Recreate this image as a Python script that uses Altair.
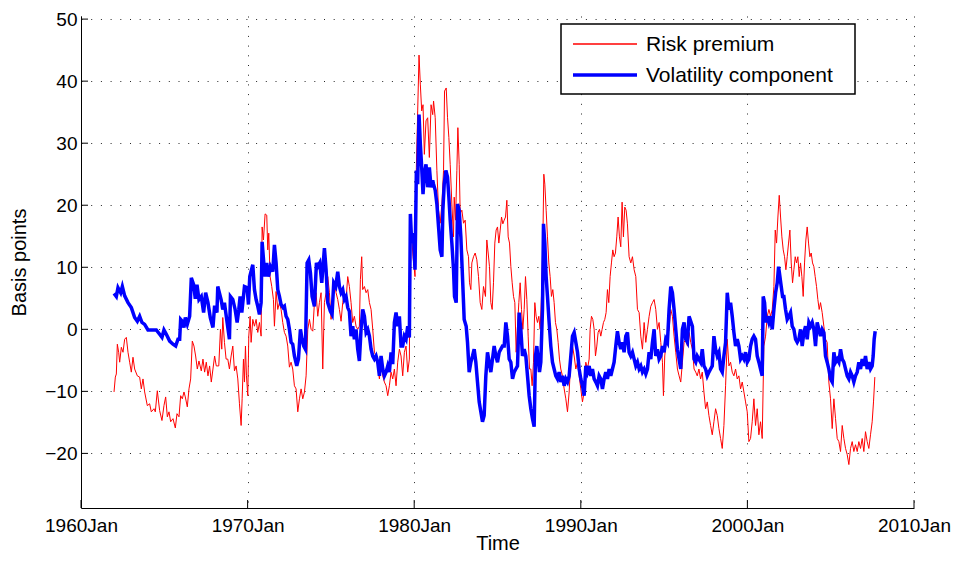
import altair as alt
import numpy as np
import pandas as pd

FONT = "Liberation Sans"

# ---------------- data (decimal year, basis points) -------------
rp_year = [
    1961.98, 1962.06, 1962.12, 1962.18, 1962.26, 1962.32, 1962.42, 1962.52, 1962.62, 1962.72,
    1962.82, 1962.92, 1963.02, 1963.12, 1963.22, 1963.38, 1963.52, 1963.62, 1963.72, 1963.82,
    1963.98, 1964.12, 1964.22, 1964.38, 1964.46, 1964.58, 1964.72, 1964.86, 1964.98, 1965.08,
    1965.18, 1965.28, 1965.38, 1965.52, 1965.66, 1965.76, 1965.88, 1965.98, 1966.08, 1966.18,
    1966.26, 1966.38, 1966.48, 1966.58, 1966.68, 1966.78, 1966.88, 1966.98, 1967.08, 1967.22,
    1967.32, 1967.42, 1967.52, 1967.62, 1967.72, 1967.82, 1967.92, 1968.02, 1968.12, 1968.27,
    1968.37, 1968.45, 1968.51, 1968.61, 1968.71, 1968.81, 1968.91, 1969.01, 1969.11, 1969.21,
    1969.31, 1969.41, 1969.51, 1969.61, 1969.67, 1969.75, 1969.81, 1969.87, 1969.93, 1970.01,
    1970.07, 1970.15, 1970.21, 1970.31, 1970.41, 1970.51, 1970.61, 1970.71, 1970.81, 1970.87,
    1970.95, 1971.05, 1971.15, 1971.21, 1971.27, 1971.35, 1971.45, 1971.55, 1971.61, 1971.71,
    1971.81, 1971.91, 1972.01, 1972.11, 1972.21, 1972.31, 1972.41, 1972.51, 1972.61, 1972.71,
    1972.81, 1972.91, 1973.01, 1973.11, 1973.21, 1973.31, 1973.41, 1973.51, 1973.61, 1973.71,
    1973.81, 1973.91, 1974.01, 1974.11, 1974.21, 1974.31, 1974.41, 1974.51, 1974.61, 1974.71,
    1974.81, 1974.91, 1975.01, 1975.11, 1975.21, 1975.31, 1975.41, 1975.51, 1975.61, 1975.71,
    1975.81, 1975.91, 1976.01, 1976.11, 1976.21, 1976.31, 1976.41, 1976.51, 1976.61, 1976.71,
    1976.77, 1976.85, 1976.91, 1977.01, 1977.11, 1977.21, 1977.31, 1977.41, 1977.51, 1977.61,
    1977.71, 1977.81, 1977.91, 1978.01, 1978.11, 1978.21, 1978.31, 1978.41, 1978.51, 1978.61,
    1978.71, 1978.81, 1978.91, 1979.01, 1979.11, 1979.21, 1979.31, 1979.41, 1979.51, 1979.61,
    1979.71, 1979.77, 1979.85, 1979.93, 1980.05, 1980.13, 1980.21, 1980.29, 1980.37, 1980.45,
    1980.53, 1980.61, 1980.71, 1980.81, 1980.91, 1981.01, 1981.11, 1981.16, 1981.26, 1981.36,
    1981.46, 1981.56, 1981.66, 1981.76, 1981.82, 1981.92, 1982.00, 1982.08, 1982.16, 1982.26,
    1982.36, 1982.40, 1982.48, 1982.56, 1982.62, 1982.70, 1982.76, 1982.86, 1982.96, 1983.06,
    1983.16, 1983.26, 1983.32, 1983.40, 1983.46, 1983.56, 1983.66, 1983.76, 1983.86, 1983.96,
    1984.06, 1984.16, 1984.28, 1984.36, 1984.44, 1984.52, 1984.60, 1984.68, 1984.76, 1984.84,
    1984.92, 1985.00, 1985.08, 1985.16, 1985.24, 1985.32, 1985.40, 1985.48, 1985.56, 1985.64,
    1985.72, 1985.80, 1985.88, 1985.96, 1986.04, 1986.12, 1986.20, 1986.28, 1986.36, 1986.44,
    1986.52, 1986.60, 1986.68, 1986.76, 1986.84, 1986.92, 1987.00, 1987.08, 1987.16, 1987.24,
    1987.32, 1987.40, 1987.48, 1987.56, 1987.64, 1987.72, 1987.78, 1987.84, 1987.92, 1988.00,
    1988.08, 1988.16, 1988.24, 1988.32, 1988.40, 1988.48, 1988.56, 1988.64, 1988.72, 1988.80,
    1988.90, 1989.00, 1989.10, 1989.20, 1989.30, 1989.40, 1989.50, 1989.60, 1989.70, 1989.80,
    1989.90, 1990.00, 1990.10, 1990.20, 1990.30, 1990.40, 1990.50, 1990.56, 1990.64, 1990.72,
    1990.80, 1990.88, 1990.96, 1991.04, 1991.12, 1991.20, 1991.28, 1991.36, 1991.44, 1991.52,
    1991.60, 1991.68, 1991.76, 1991.84, 1991.92, 1992.00, 1992.08, 1992.16, 1992.24, 1992.32,
    1992.40, 1992.48, 1992.56, 1992.64, 1992.72, 1992.80, 1992.90, 1993.00, 1993.10, 1993.20,
    1993.30, 1993.40, 1993.50, 1993.60, 1993.70, 1993.80, 1993.90, 1994.00, 1994.10, 1994.20,
    1994.30, 1994.40, 1994.50, 1994.60, 1994.70, 1994.80, 1994.90, 1994.96, 1995.04, 1995.12,
    1995.20, 1995.30, 1995.40, 1995.50, 1995.60, 1995.70, 1995.80, 1995.90, 1996.00, 1996.10,
    1996.20, 1996.30, 1996.40, 1996.50, 1996.60, 1996.70, 1996.80, 1996.90, 1996.99, 1997.09,
    1997.19, 1997.29, 1997.39, 1997.49, 1997.59, 1997.69, 1997.79, 1997.89, 1997.99, 1998.09,
    1998.19, 1998.29, 1998.39, 1998.49, 1998.59, 1998.69, 1998.79, 1998.89, 1998.99, 1999.09,
    1999.19, 1999.29, 1999.39, 1999.49, 1999.59, 1999.69, 1999.79, 1999.89, 1999.99, 2000.09,
    2000.19, 2000.29, 2000.39, 2000.49, 2000.59, 2000.69, 2000.79, 2000.89, 2000.99, 2001.09,
    2001.19, 2001.29, 2001.39, 2001.49, 2001.59, 2001.67, 2001.75, 2001.83, 2001.91, 2001.99,
    2002.07, 2002.15, 2002.23, 2002.31, 2002.39, 2002.47, 2002.55, 2002.63, 2002.71, 2002.79,
    2002.87, 2002.95, 2003.03, 2003.11, 2003.19, 2003.27, 2003.35, 2003.43, 2003.51, 2003.59,
    2003.67, 2003.75, 2003.83, 2003.91, 2003.99, 2004.07, 2004.15, 2004.23, 2004.31, 2004.39,
    2004.49, 2004.59, 2004.69, 2004.79, 2004.89, 2004.99, 2005.09, 2005.19, 2005.29, 2005.39,
    2005.49, 2005.59, 2005.69, 2005.79, 2005.89, 2005.99, 2006.09, 2006.19, 2006.29, 2006.39,
    2006.49, 2006.59, 2006.69, 2006.79, 2006.89, 2006.99, 2007.09, 2007.19, 2007.29, 2007.39,
    2007.49, 2007.57, 2007.65,
]
rp_value = [
    -10.1, -7.7, -7.2, -2.4, -3.7, -5.3, -2.9, -3.7, -1.6, -1.3,
    -3.7, -5.3, -6.9, -4.5, -6.4, -7.5, -7.7, -9.6, -8.0, -10.1,
    -12.3, -12.0, -13.3, -12.8, -13.3, -9.9, -13.1, -14.7, -12.3, -10.9,
    -14.1, -13.3, -14.9, -14.4, -15.9, -13.6, -14.1, -10.7, -11.2, -10.1,
    -10.9, -12.5, -9.6, -8.0, -1.9, -2.7, -4.3, -6.4, -5.1, -6.7,
    -4.8, -6.9, -5.3, -7.5, -5.9, -8.5, -6.4, -4.3, -5.9, -5.9,
    0.0, -3.2, 1.9, -2.1, -4.8, -4.8, -6.4, -4.3, -2.7, -6.7,
    -5.9, -8.0, -12.0, -15.5, -11.2, -4.8, -8.5, -2.7, -7.5, -10.7,
    -1.1, 2.1, -2.1, 1.6, 0.5, 1.6, -0.5, 1.1, -1.1, 16.5,
    14.4, 18.6, 18.4, 12.8, 15.5, 8.5, 6.9, 4.8, 0.5, 6.1,
    3.2, 4.3, 3.2, 1.1, -0.5, -1.1, -2.7, -6.1, -5.3, -6.4,
    -9.1, -9.6, -13.3, -11.2, -9.6, -11.2, -10.1, -7.5, 0.0, 1.6,
    0.0, -0.3, 4.3, 5.9, 2.1, 4.3, 5.9, -6.4, 4.3, 5.9,
    8.5, 5.9, 1.6, 4.3, 7.5, 5.9, 4.8, 3.2, 1.3, 4.3,
    5.9, 4.8, 8.5, 6.9, 4.3, 1.1, 2.1, 0.5, 0.0, 0.5,
    8.0, 11.7, 6.4, 6.9, 5.9, 6.4, 4.3, 3.2, 0.0, -3.7,
    -4.3, -5.9, -8.0, -5.3, -7.5, -8.5, -9.1, -10.7, -9.1, -6.9,
    -8.0, -6.4, -9.1, -5.3, -3.2, -4.3, -7.5, -3.7, -2.7, -6.9,
    -4.8, 18.1, 14.9, 11.7, 8.5, 26.1, 35.2, 44.2, 39.4, 35.2,
    36.2, 28.2, 33.6, 34.1, 27.7, 36.2, 34.6, 36.8, 34.1, 25.6,
    19.2, 17.1, 20.2, 25.6, 38.4, 38.9, 34.1, 30.9, 26.6, 20.2,
    14.9, 21.3, 17.6, 25.6, 32.5, 26.6, 18.7, 19.2, 17.1, 17.6,
    12.8, 11.7, 7.5, 6.4, 10.7, 11.7, 12.3, 11.2, 8.5, 4.3,
    3.2, 6.9, 5.3, 14.4, 12.3, 10.1, 4.3, 3.2, 7.5, 13.9,
    16.0, 16.5, 13.9, 16.0, 18.1, 17.0, 17.6, 18.1, 20.8, 14.9,
    13.9, 10.1, 7.5, 5.3, 4.3, -3.7, 0.5, 4.3, 7.5, 3.2,
    0.0, 3.2, 8.5, 4.8, -1.1, -6.4, -6.4, -9.1, -5.3, 4.3,
    2.1, 1.1, 2.1, 0.0, 5.3, 13.9, 25.0, 23.4, 19.2, 14.9,
    10.7, 8.5, 5.3, 6.4, 4.3, 1.1, 0.0, -2.1, -4.8, -6.4,
    -7.5, -9.6, -11.2, -13.3, -10.1, -4.8, -2.7, -4.3, -6.4, -5.3,
    -7.5, -9.6, -11.7, -10.1, -5.3, -6.4, -4.8, 0.0, 2.1, 1.6,
    0.0, -4.3, -2.7, -0.5, 0.0, -1.1, 0.0, 1.1, 1.6, 2.7,
    6.4, 4.3, 8.5, 10.7, 12.8, 11.7, 12.3, 14.9, 18.1, 14.9,
    13.3, 20.5, 14.9, 19.7, 19.2, 17.0, 11.7, 10.7, 11.7, 9.6,
    8.5, 3.2, 2.7, -1.1, -3.2, 1.1, -2.1, 0.0, 2.1, 3.7,
    4.3, 4.8, 3.2, 0.0, 1.1, -2.1, -5.3, -10.7, -4.3, -2.1,
    -1.1, 0.0, 3.2, 2.1, -1.1, -3.7, -6.4, -7.5, -8.5, -5.3,
    -2.1, -1.6, -2.7, -0.5, -2.1, -3.2, -6.4, -6.9, -7.5, -6.4,
    -8.0, -6.9, -10.1, -12.8, -11.7, -13.9, -15.5, -17.0, -14.9, -12.8,
    -13.9, -16.0, -17.6, -19.2, -15.5, -9.1, -1.6, -5.9, -5.3, -6.9,
    -7.5, -6.4, -8.0, -7.5, -9.6, -8.5, -10.1, -11.7, -13.3, -18.1,
    -17.6, -14.9, -11.2, -15.5, -12.8, -17.0, -14.9, -17.6, -2.7, -1.1,
    2.1, 3.2, 2.1, 3.2, 6.9, 16.0, 13.9, 18.1, 21.6, 18.1,
    14.9, 12.8, 11.7, 9.6, 11.7, 13.9, 16.0, 10.7, 7.5, 9.6,
    11.7, 10.7, 11.7, 8.5, 10.7, 8.5, 5.3, 10.7, 14.4, 16.5,
    13.9, 11.7, 12.3, 10.7, 10.1, 8.5, 6.9, 4.8, 3.2, 4.3,
    2.7, 0.5, -1.6, -2.1, -8.5, -11.2, -16.0, -11.2, -14.4, -17.6,
    -18.1, -19.7, -15.5, -17.6, -19.2, -20.2, -21.8, -19.2, -18.1, -19.7,
    -18.6, -19.7, -18.1, -19.2, -17.6, -19.7, -16.5, -18.1, -19.2, -17.0,
    -14.9, -11.7, -7.7,
]

vc_year = [
    1961.98, 1962.12, 1962.22, 1962.38, 1962.48, 1962.62, 1962.82, 1963.02, 1963.22, 1963.38,
    1963.52, 1963.66, 1963.82, 1964.02, 1964.22, 1964.52, 1964.72, 1964.86, 1964.98, 1965.12,
    1965.32, 1965.52, 1965.68, 1965.82, 1965.92, 1965.98, 1966.08, 1966.18, 1966.26, 1966.38,
    1966.52, 1966.62, 1966.76, 1966.86, 1966.96, 1967.08, 1967.22, 1967.36, 1967.48, 1967.62,
    1967.76, 1967.92, 1968.02, 1968.16, 1968.21, 1968.41, 1968.51, 1968.61, 1968.77, 1968.91,
    1968.97, 1969.11, 1969.25, 1969.37, 1969.47, 1969.55, 1969.65, 1969.81, 1969.97, 1970.05,
    1970.13, 1970.31, 1970.41, 1970.51, 1970.61, 1970.71, 1970.81, 1970.87, 1970.97, 1971.05,
    1971.15, 1971.25, 1971.37, 1971.51, 1971.61, 1971.71, 1971.81, 1971.91, 1972.01, 1972.13,
    1972.21, 1972.31, 1972.41, 1972.51, 1972.61, 1972.71, 1972.81, 1972.95, 1973.05, 1973.17,
    1973.27, 1973.37, 1973.47, 1973.57, 1973.67, 1973.77, 1973.87, 1974.01, 1974.13, 1974.21,
    1974.33, 1974.45, 1974.61, 1974.71, 1974.81, 1974.97, 1975.07, 1975.17, 1975.29, 1975.41,
    1975.51, 1975.61, 1975.71, 1975.81, 1975.91, 1976.01, 1976.11, 1976.21, 1976.31, 1976.41,
    1976.51, 1976.61, 1976.71, 1976.81, 1976.91, 1977.01, 1977.11, 1977.21, 1977.31, 1977.41,
    1977.51, 1977.61, 1977.71, 1977.81, 1977.91, 1978.01, 1978.11, 1978.21, 1978.31, 1978.41,
    1978.51, 1978.61, 1978.71, 1978.81, 1978.91, 1979.01, 1979.11, 1979.21, 1979.31, 1979.41,
    1979.51, 1979.61, 1979.71, 1979.77, 1979.85, 1979.95, 1980.05, 1980.13, 1980.21, 1980.29,
    1980.37, 1980.45, 1980.53, 1980.61, 1980.71, 1980.81, 1980.91, 1981.01, 1981.11, 1981.16,
    1981.26, 1981.36, 1981.46, 1981.56, 1981.66, 1981.72, 1981.80, 1981.90, 1982.00, 1982.08,
    1982.16, 1982.26, 1982.36, 1982.42, 1982.52, 1982.60, 1982.70, 1982.80, 1982.88, 1982.96,
    1983.00, 1983.12, 1983.20, 1983.30, 1983.40, 1983.50, 1983.60, 1983.70, 1983.80, 1983.90,
    1984.00, 1984.10, 1984.20, 1984.30, 1984.40, 1984.50, 1984.60, 1984.70, 1984.80, 1984.90,
    1985.00, 1985.10, 1985.20, 1985.30, 1985.40, 1985.50, 1985.60, 1985.70, 1985.80, 1985.90,
    1986.00, 1986.10, 1986.20, 1986.30, 1986.40, 1986.50, 1986.60, 1986.70, 1986.80, 1986.90,
    1987.00, 1987.10, 1987.20, 1987.28, 1987.36, 1987.44, 1987.52, 1987.60, 1987.70, 1987.76,
    1987.84, 1987.92, 1988.00, 1988.10, 1988.20, 1988.30, 1988.40, 1988.50, 1988.60, 1988.70,
    1988.80, 1988.90, 1989.00, 1989.10, 1989.20, 1989.30, 1989.40, 1989.50, 1989.60, 1989.70,
    1989.80, 1989.90, 1990.00, 1990.10, 1990.20, 1990.30, 1990.40, 1990.50, 1990.60, 1990.70,
    1990.80, 1990.90, 1991.00, 1991.10, 1991.20, 1991.30, 1991.40, 1991.50, 1991.60, 1991.70,
    1991.80, 1991.90, 1992.00, 1992.10, 1992.20, 1992.30, 1992.40, 1992.50, 1992.60, 1992.70,
    1992.80, 1992.90, 1993.00, 1993.10, 1993.20, 1993.30, 1993.40, 1993.50, 1993.60, 1993.70,
    1993.80, 1993.90, 1994.00, 1994.10, 1994.20, 1994.30, 1994.40, 1994.50, 1994.60, 1994.70,
    1994.80, 1994.90, 1995.00, 1995.10, 1995.20, 1995.30, 1995.40, 1995.50, 1995.60, 1995.70,
    1995.80, 1995.90, 1996.00, 1996.10, 1996.20, 1996.30, 1996.40, 1996.50, 1996.60, 1996.70,
    1996.80, 1996.90, 1996.99, 1997.09, 1997.19, 1997.29, 1997.39, 1997.49, 1997.59, 1997.69,
    1997.79, 1997.89, 1997.99, 1998.09, 1998.19, 1998.29, 1998.39, 1998.49, 1998.59, 1998.69,
    1998.79, 1998.89, 1998.99, 1999.09, 1999.19, 1999.29, 1999.39, 1999.49, 1999.59, 1999.69,
    1999.79, 1999.89, 1999.99, 2000.09, 2000.19, 2000.29, 2000.39, 2000.49, 2000.59, 2000.69,
    2000.79, 2000.89, 2000.95, 2001.03, 2001.11, 2001.19, 2001.29, 2001.39, 2001.49, 2001.59,
    2001.69, 2001.79, 2001.87, 2001.95, 2002.03, 2002.11, 2002.19, 2002.29, 2002.39, 2002.49,
    2002.59, 2002.69, 2002.79, 2002.89, 2002.99, 2003.09, 2003.19, 2003.29, 2003.39, 2003.49,
    2003.59, 2003.69, 2003.79, 2003.89, 2003.99, 2004.09, 2004.19, 2004.29, 2004.39, 2004.49,
    2004.59, 2004.69, 2004.79, 2004.89, 2004.99, 2005.09, 2005.19, 2005.29, 2005.39, 2005.49,
    2005.59, 2005.69, 2005.79, 2005.89, 2005.99, 2006.09, 2006.19, 2006.29, 2006.39, 2006.49,
    2006.59, 2006.69, 2006.79, 2006.89, 2006.99, 2007.09, 2007.19, 2007.29, 2007.39, 2007.49,
    2007.55, 2007.61, 2007.67,
]
vc_value = [
    5.8, 5.3, 6.7, 5.9, 6.9, 5.4, 4.3, 3.5, 1.9, 1.3,
    2.1, 1.1, 0.8, -0.1, -0.1, -0.1, -0.8, -1.3, -0.1, -0.8,
    -1.9, -2.4, -2.7, -1.6, -1.6, 1.6, 1.3, 0.3, 1.9, 0.8,
    2.1, 8.3, 7.2, 4.9, 7.2, 4.8, 5.3, 2.7, 5.9, 4.3,
    1.9, 0.3, 3.8, 2.7, 6.9, 4.8, 3.2, 4.3, 1.1, -1.6,
    5.3, 4.8, 3.2, 1.1, 3.2, 5.3, 2.7, 6.9, 6.7, 4.0,
    8.5, 10.4, 6.4, 4.8, 3.7, 2.4, 4.3, 14.1, 10.7, 8.5,
    10.7, 8.5, 10.1, 9.3, 13.6, 10.7, 6.4, 5.3, 4.0, 3.5,
    3.7, 2.1, 1.6, 0.0, -2.1, -2.4, -4.3, -5.9, -4.8, 0.0,
    -1.6, -2.7, -3.2, 10.7, 11.2, 9.1, 5.3, 3.7, 10.7, 10.1,
    10.7, 7.5, 13.1, 9.6, 4.3, 2.9, 2.4, 7.5, 6.9, 9.3,
    6.9, 5.9, 6.4, 4.8, 5.3, 3.5, 2.9, -1.1, 0.5, -1.6,
    0.0, -3.2, -5.1, 0.0, 3.2, 2.1, -0.5, 0.0, -1.1, -3.2,
    -4.3, -4.8, -4.3, -5.3, -7.5, -4.3, -6.4, -7.5, -6.9, -5.9,
    -6.9, -3.7, -5.6, 1.1, 2.7, 0.5, 2.1, -2.7, -2.7, -1.1,
    -1.6, 0.5, -1.3, 18.6, 13.9, 15.5, 9.6, 25.6, 23.4, 34.6,
    29.8, 26.1, 21.8, 25.0, 26.6, 22.9, 26.1, 22.9, 24.0, 23.4,
    22.4, 20.2, 16.5, 12.8, 11.7, 19.2, 23.4, 25.6, 24.5, 21.3,
    17.6, 13.9, 9.6, 5.3, 4.3, 20.2, 19.2, 14.9, 9.6, 4.3,
    1.6, 0.5, -2.1, -6.9, -5.3, -4.3, -3.2, -5.3, -8.5, -11.7,
    -13.3, -14.9, -13.9, -7.5, -3.7, -5.3, -6.9, -4.8, -2.7, -4.3,
    -5.3, -3.7, -3.2, -2.7, -2.7, 1.1, -1.1, -4.8, -5.3, -8.0,
    -6.9, -6.4, -5.9, 2.7, 0.0, -4.3, -3.2, -4.3, -7.5, -10.7,
    -12.8, -14.4, -15.7, -4.3, -2.7, -4.8, -6.9, -5.3, 3.2, 17.0,
    13.9, 8.5, 5.3, 1.1, -2.7, -5.3, -6.4, -7.5, -8.0, -6.9,
    -8.5, -7.5, -9.1, -8.0, -8.5, -7.5, -4.3, -1.1, -0.5, -2.1,
    -3.7, -6.4, -8.0, -9.1, -10.7, -5.9, -6.9, -5.9, -7.5, -6.4,
    -8.0, -8.5, -9.1, -7.5, -8.0, -9.6, -8.0, -6.9, -8.0, -6.4,
    -7.5, -6.4, -5.3, -2.7, -0.3, -2.1, -3.2, -2.1, -3.7, -1.1,
    -0.5, -3.7, -4.3, -3.7, -4.8, -5.9, -5.3, -6.4, -5.9, -6.9,
    -6.4, -7.2, -6.4, -3.7, -4.8, -2.1, 0.0, -4.3, -3.2, -4.8,
    -4.3, -2.7, -3.7, -1.6, -2.1, 3.2, 6.9, 5.9, 3.2, 0.0,
    -3.2, -4.8, -6.4, 0.0, 1.1, -1.6, -2.1, 2.1, 1.3, 0.5,
    -4.8, -5.3, -4.3, -4.8, -5.3, -3.2, -5.9, -6.4, -7.5, -6.9,
    -6.4, -5.9, -1.1, -3.2, -4.3, -3.7, -6.4, -6.9, -4.3, -2.1,
    5.9, 3.2, 4.3, 2.1, -0.5, -2.7, -1.6, -2.7, -4.8, -4.3,
    -4.8, -3.7, -5.3, -4.8, -2.7, -1.6, -1.1, -1.6, -4.3, -5.3,
    -6.4, -7.5, 5.3, 4.3, 1.1, 2.1, 1.1, 2.1, 0.0, 3.2,
    5.9, 7.5, 10.1, 8.5, 6.9, 5.3, 5.3, 3.2, 1.6, 2.1,
    2.7, 0.5, 0.0, -1.6, -2.1, -1.6, 0.0, -2.7, -0.5, 0.5,
    -1.6, 1.1, 0.5, 1.1, 0.0, -2.7, 1.1, 0.0, -1.1, 0.0,
    -0.5, -4.3, -5.3, -6.4, -8.0, -8.5, -3.7, -5.3, -4.8, -5.3,
    -3.2, -4.8, -5.3, -6.4, -7.5, -8.0, -6.9, -7.5, -8.5, -7.5,
    -6.9, -5.3, -6.4, -4.8, -5.9, -4.3, -6.4, -5.3, -6.4, -5.9,
    -4.3, -1.6, -0.3,
]

series_names = ["Risk premium", "Volatility component"]
series_colors = ["#ff0000", "#0000ff"]
series_widths = [1.0, 3.5]
x_tick_years = [1960, 1970, 1980, 1990, 2000, 2010]
y_tick_values = [-20, -10, 0, 10, 20, 30, 40, 50]
y_limits = [-28.8, 50.5]
x_limits = [1960, 2010]


def to_dates(years):
    y = np.asarray(years, dtype=float)
    whole = np.floor(y).astype(int)
    start = pd.to_datetime([f"{w}-01-01" for w in whole])
    return start + pd.to_timedelta((y - whole) * 365.25, unit="D")


df_rp = pd.DataFrame({"date": to_dates(rp_year), "value": rp_value, "series": series_names[0]})
df_vc = pd.DataFrame({"date": to_dates(vc_year), "value": vc_value, "series": series_names[1]})
df_xt = pd.DataFrame({"date": to_dates(x_tick_years)})
df_yt = pd.DataFrame({"value": y_tick_values})
df_leg = pd.DataFrame({"series": series_names})

W, H = 833, 492

x_enc = alt.X(
    "date:T",
    scale=alt.Scale(domain=[alt.DateTime(year=x_limits[0], month=1, date=1),
                            alt.DateTime(year=x_limits[1], month=1, date=1)], nice=False),
    axis=alt.Axis(
        values=[alt.DateTime(year=y, month=1, date=1) for y in x_tick_years],
        format="%YJan", title="Time", labelFlush=False, labelOverlap=False,
        grid=True, labelPadding=8, titleY=41, titleBaseline="alphabetic",
    ),
)
y_enc = alt.Y(
    "value:Q",
    scale=alt.Scale(domain=y_limits, nice=False, zero=False),
    axis=alt.Axis(values=y_tick_values, title="Basis points", labelFlush=False,
                  labelOverlap=False, grid=True, labelPadding=4, titlePadding=15),
)
color_enc = alt.Color("series:N", scale=alt.Scale(domain=series_names, range=series_colors), legend=None)
width_enc = alt.StrokeWidth("series:N", scale=alt.Scale(type="ordinal", domain=series_names, range=series_widths), legend=None)

red = alt.Chart(df_rp).mark_line(clip=True).encode(x=x_enc, y=y_enc, color=color_enc, strokeWidth=width_enc)
blue = alt.Chart(df_vc).mark_line(clip=True).encode(x=x_enc, y=y_enc, color=color_enc, strokeWidth=width_enc)

xticks = alt.Chart(df_xt).mark_rule(color="black", strokeWidth=1).encode(
    x=x_enc, y=alt.value(H), y2=alt.value(H - 8))
yticks = alt.Chart(df_yt).mark_rule(color="black", strokeWidth=1).encode(
    y=y_enc, x=alt.value(0), x2=alt.value(7))

# legend drawn as a boxed key in the upper right of the plot
LX0, LX1, LY0, LY1 = 480, 774, 8, 78
ROW_Y = [28, 59]
legend_box = alt.Chart(df_leg.iloc[[0]]).mark_rect(
    fill="white", stroke="black", strokeWidth=1.5).encode(
    x=alt.value(LX0), x2=alt.value(LX1), y=alt.value(LY0), y2=alt.value(LY1))
legend_layers = [legend_box]
for i in range(len(series_names)):
    row = df_leg.iloc[[i]]
    legend_layers.append(
        alt.Chart(row).mark_rule(color=series_colors[i], strokeWidth=max(series_widths[i], 1.4)).encode(
            x=alt.value(LX0 + 12), x2=alt.value(LX0 + 76), y=alt.value(ROW_Y[i]))
    )
    legend_layers.append(
        alt.Chart(row).mark_text(align="left", baseline="middle", font=FONT, fontSize=21,
                                 color="black").encode(
            text="series:N", x=alt.value(LX0 + 85), y=alt.value(ROW_Y[i] + 1))
    )

chart = (
    alt.layer(red, blue, *legend_layers, xticks, yticks)
    .properties(width=W, height=H,
                padding={"left": 73, "top": 8, "right": 37, "bottom": 46},
                autosize=alt.AutoSizeParams(type="none"))
    .configure_view(stroke=None)
    .configure_axis(
        domainColor="black", domainWidth=1, ticks=False, tickSize=0,
        labelFont=FONT, labelFontSize=19, labelColor="black",
        titleFont=FONT, titleFontSize=20, titleFontWeight="normal", titleColor="black",
        gridColor="black", gridDash=[1, 8.7], gridWidth=1, gridOpacity=0.85,
    )
)

chart.save("out.html", embed_options={"renderer": "svg", "actions": False})
